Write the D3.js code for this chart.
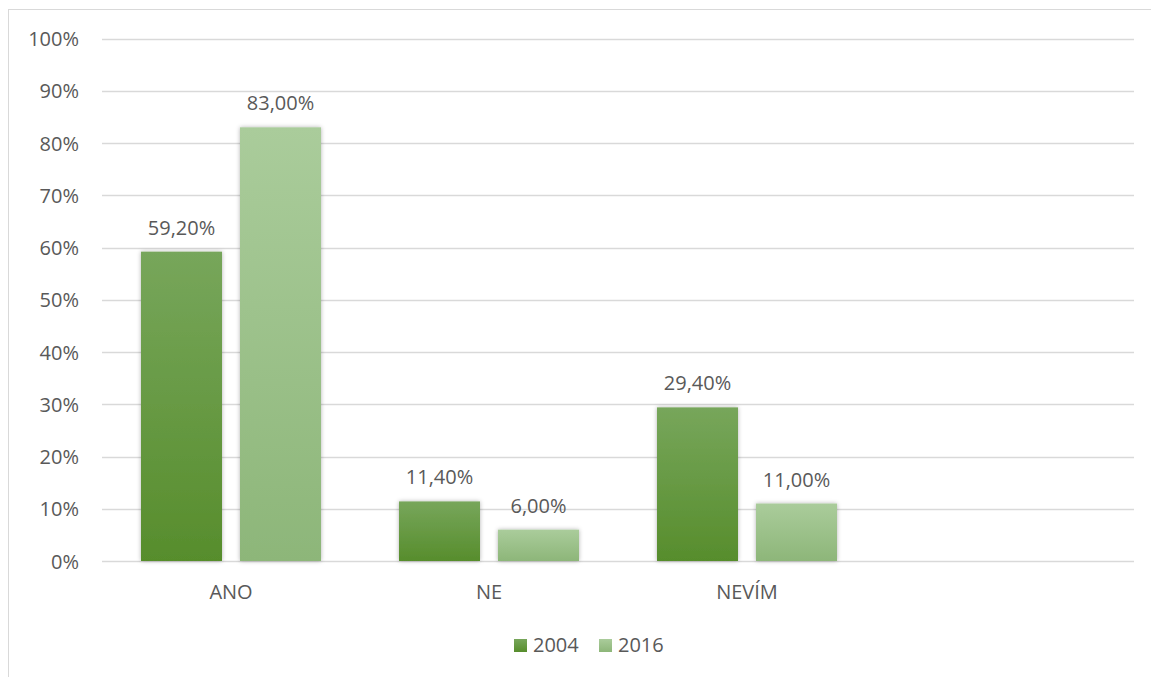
<!DOCTYPE html>
<html>
<head>
<meta charset="utf-8">
<script src="https://cdn.jsdelivr.net/npm/d3@7"></script>
<style>
  body { margin: 0; background: #fff; }
  text { font-family: "Open Sans", "Noto Sans", sans-serif; fill: #595959; }
</style>
</head>
<body>
<div id="chart-area"></div>
<script>
var categories = ["ANO", "NE", "NEVÍM", ""];
var seriesNames = ["2004", "2016"];
var values2004 = [0.592, 0.114, 0.294, null];
var values2016 = [0.83, 0.06, 0.11, null];
var yTicks = [0, 0.1, 0.2, 0.3, 0.4, 0.5, 0.6, 0.7, 0.8, 0.9, 1];

var width = 1151, height = 677;
var margin = { left: 102, right: 17, top: 38.5, bottom: 116 };
var fontSize = "20px";

var svg = d3.select("#chart-area")
    .append("svg")
    .attr("width", width)
    .attr("height", height);

var defs = svg.append("defs");
function grad(id, c1, c2) {
    var lg = defs.append("linearGradient").attr("id", id)
        .attr("x1", 0).attr("y1", 0).attr("x2", 0).attr("y2", 1);
    lg.append("stop").attr("offset", "0%").attr("stop-color", c1);
    lg.append("stop").attr("offset", "100%").attr("stop-color", c2);
}
grad("g2004", "#77a65b", "#578d2c");
grad("g2016", "#aacc9b", "#8db679");
var f = defs.append("filter").attr("id", "shadow")
    .attr("x", "-20%").attr("y", "-20%").attr("width", "140%").attr("height", "140%");
f.append("feDropShadow").attr("dx", 0).attr("dy", 0).attr("stdDeviation", 2)
    .attr("flood-color", "#000").attr("flood-opacity", 0.3);

// outer frame
svg.append("rect")
    .attr("x", 8.5).attr("y", 9.5)
    .attr("width", width + 10).attr("height", height + 10)
    .attr("fill", "none").attr("stroke", "#d9d9d9").attr("stroke-width", 1);

var x = d3.scaleBand()
    .domain(categories)
    .range([margin.left, width - margin.right]);

var y = d3.scaleLinear()
    .domain([0, 1])
    .range([561, margin.top]);

var x1 = d3.scaleBand()
    .domain(seriesNames)
    .range([39, x.bandwidth() - 39])
    .paddingInner(18 / 99);

// gridlines
svg.append("g")
    .selectAll("line")
    .data(yTicks)
    .enter()
    .append("line")
    .attr("x1", margin.left)
    .attr("x2", width - margin.right)
    .attr("y1", function (d) { return Math.round(y(d)) + 0.5; })
    .attr("y2", function (d) { return Math.round(y(d)) + 0.5; })
    .attr("stroke", "#d9d9d9")
    .attr("stroke-width", 1.3);

// y axis labels
var yAxis = d3.axisLeft(y)
    .tickValues(yTicks)
    .tickSize(0)
    .tickPadding(0)
    .tickFormat(function (d) { return Math.round(d * 100) + "%"; });
var ya = svg.append("g")
    .attr("transform", "translate(79,0)")
    .call(yAxis);
ya.select(".domain").remove();
ya.selectAll("text").style("font-size", fontSize).attr("fill", "#595959")
    .attr("dy", "0.36em");

// x axis labels
var xAxis = d3.axisBottom(x).tickSize(0).tickPadding(0);
var xa = svg.append("g")
    .attr("transform", "translate(0,599)")
    .call(xAxis);
xa.select(".domain").remove();
xa.selectAll("text").style("font-size", fontSize).attr("fill", "#595959")
    .attr("dy", 0).attr("y", 0);

var rows = [];
categories.forEach(function (c, i) {
    if (values2004[i] != null) rows.push({ cat: c, s: "2004", v: values2004[i] });
    if (values2016[i] != null) rows.push({ cat: c, s: "2016", v: values2016[i] });
});

svg.append("g")
    .selectAll("rect")
    .data(rows)
    .enter()
    .append("rect")
    .attr("x", function (d) { return x(d.cat) + x1(d.s); })
    .attr("y", function (d) { return y(d.v); })
    .attr("width", x1.bandwidth())
    .attr("height", function (d) { return y(0) - y(d.v); })
    .attr("fill", function (d) { return "url(#g" + d.s + ")"; })
    .attr("filter", "url(#shadow)");

var fmt = function (v) { return d3.format(".2f")(v * 100).replace(".", ",") + "%"; };
svg.append("g")
    .selectAll("text")
    .data(rows)
    .enter()
    .append("text")
    .attr("x", function (d) { return x(d.cat) + x1(d.s) + x1.bandwidth() / 2; })
    .attr("y", function (d) { return y(d.v) - 17; })
    .attr("text-anchor", "middle")
    .style("font-size", fontSize)
    .text(function (d) { return fmt(d.v); });

// legend
var legend = svg.append("g").attr("transform", "translate(514,639)");
var li = legend.selectAll("g")
    .data(seriesNames)
    .enter()
    .append("g")
    .attr("transform", function (d, i) { return "translate(" + (i * 85) + ",0)"; });
li.append("rect")
    .attr("width", 13).attr("height", 13)
    .attr("fill", function (d) { return "url(#g" + d + ")"; });
li.append("text")
    .attr("x", 19).attr("y", 13)
    .style("font-size", fontSize)
    .text(function (d) { return d; });
</script>
</body>
</html>
